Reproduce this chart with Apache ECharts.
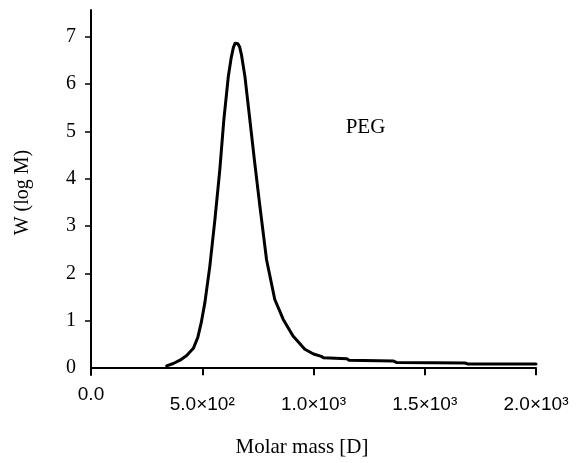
<!DOCTYPE html>
<html>
<head>
<meta charset="utf-8">
<script src="https://cdn.jsdelivr.net/npm/echarts@6/dist/echarts.min.js"></script>
<style>
  html, body { margin: 0; padding: 0; background: #fff; }
  #chart { width: 584px; height: 463px; }
</style>
</head>
<body>
<div id="chart"></div>
<script>
// Molar mass [D]
const molarMass = [340, 370, 400, 430, 460, 480, 495, 512, 534, 557, 579, 597, 617, 630, 640, 648, 654, 660, 668, 676, 692, 714, 736, 759, 789, 826, 864, 908, 961, 1000, 1035, 1045, 1150, 1160, 1360, 1375, 1680, 1695, 2000];
// W (log M)
const wlogM = [0.05, 0.1, 0.17, 0.27, 0.42, 0.65, 0.95, 1.39, 2.15, 3.14, 4.19, 5.24, 6.15, 6.55, 6.77, 6.86, 6.87, 6.85, 6.78, 6.62, 6.15, 5.24, 4.33, 3.42, 2.29, 1.45, 1.03, 0.68, 0.4, 0.3, 0.25, 0.22, 0.2, 0.17, 0.15, 0.12, 0.11, 0.09, 0.09];
const xTickLabels = {0: '0.0', 500: '5.0×10²', 1000: '1.0×10³', 1500: '1.5×10³', 2000: '2.0×10³'};
const yTickValues = [0, 1, 2, 3, 4, 5, 6, 7];
const seriesName = 'PEG';

const chart = echarts.init(document.getElementById('chart'));
const serif = '"Liberation Serif", "Times New Roman", serif';
const sans = '"Liberation Sans", Arial, sans-serif';

chart.setOption({
  animation: false,
  backgroundColor: '#ffffff',
  grid: { left: 91, right: 48, top: 10, bottom: 87 },
  xAxis: {
    type: 'value',
    min: 0, max: 2000, interval: 500,
    name: 'Molar mass [D]',
    nameLocation: 'middle',
    nameGap: 62,
    nameTextStyle: { fontFamily: serif, fontSize: 21, color: '#000', padding: [0, 23, 0, 0] },
    axisLine: { show: true, lineStyle: { color: '#000', width: 2 } },
    axisTick: { show: true, length: 7, lineStyle: { color: '#000', width: 2 },
      customValues: [500, 1000, 1500, 2000] },
    splitLine: { show: false },
    axisLabel: {
      margin: 10,
      color: '#000',
      fontFamily: sans,
      fontSize: 19,
      formatter: function (v) {
        return v === 0 ? '{z|' + xTickLabels[v] + '}' : '{n|' + xTickLabels[v] + '}';
      },
      rich: {
        z: { fontFamily: sans, fontSize: 19, color: '#000' },
        n: { fontFamily: sans, fontSize: 19, color: '#000', padding: [10, 0, 0, 0] }
      }
    }
  },
  yAxis: {
    type: 'value',
    min: -0.143, max: 7.56,
    name: 'W (log M)',
    nameLocation: 'middle',
    nameGap: 58,
    nameTextStyle: { fontFamily: serif, fontSize: 20, color: '#000' },
    axisLine: { show: true, lineStyle: { color: '#000', width: 2 } },
    axisTick: { show: true, length: 6, lineStyle: { color: '#000', width: 1.5 },
      customValues: yTickValues.slice(1) },
    splitLine: { show: false },
    axisLabel: {
      margin: 15,
      color: '#000',
      fontFamily: serif,
      fontSize: 20,
      customValues: yTickValues,
      formatter: function (v) { return String(Math.round(v)); }
    }
  },
  graphic: [{
    type: 'text',
    x: 365.5, y: 127,
    style: { text: seriesName, fontFamily: serif, fontSize: 21, fill: '#000',
      textAlign: 'center', textVerticalAlign: 'middle' }
  }],
  series: [{
    name: seriesName,
    type: 'line',
    data: molarMass.map((m, i) => [m, wlogM[i]]),
    showSymbol: false,
    smooth: false,
    lineStyle: { color: '#000', width: 3, join: 'round', cap: 'round' }
  }]
});
</script>
</body>
</html>
